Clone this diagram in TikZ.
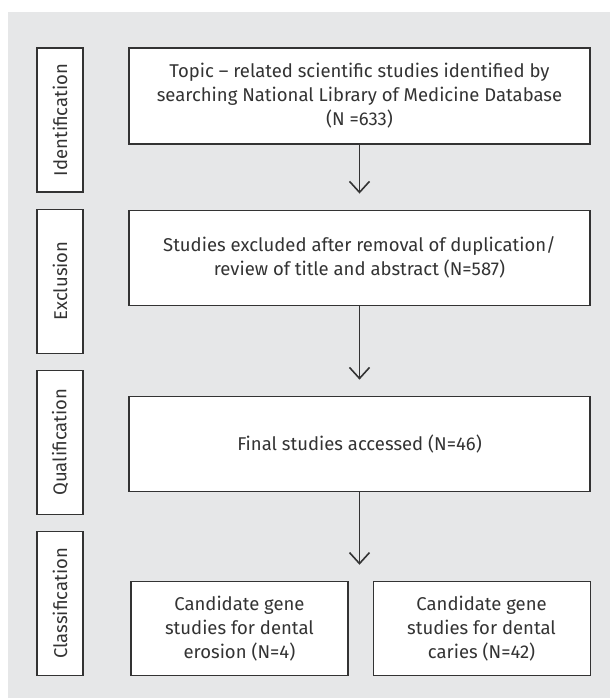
\documentclass[tikz,border=0pt]{standalone}
\usepackage{fontspec}
\setmainfont{Fira Sans}
\usepackage{tikz}
\usetikzlibrary{positioning,arrows.meta}
\definecolor{panelgray}{HTML}{E6E7E8}
\definecolor{inkgray}{HTML}{333333}

\begin{document}
\begin{tikzpicture}[x=1pt,y=-1pt,
        every node/.style={text=inkgray,font=\fontsize{18.5}{24}\selectfont},
        mainbox/.style={draw=inkgray,line width=1.1pt,fill=white,align=center,minimum width=461pt,inner sep=0pt},
        stagebox/.style={draw=inkgray,line width=1.1pt,fill=white,minimum width=46pt,minimum height=144pt,inner sep=0pt},
        genebox/.style={draw=inkgray,line width=1.1pt,fill=white,align=center,minimum width=217pt,minimum height=94pt,inner sep=0pt},
        flow/.style={-{Straight Barb[length=11pt,width=20pt]},line width=1.6pt,draw=inkgray,shorten >=16pt}]
        \fill[panelgray] (8,12) rectangle (610,698);
        \useasboundingbox (0,0) rectangle (610,698);
        \node[stagebox] (identification) at (60,120) {\rotatebox{90}{Identification}};
        \node[stagebox,below=16pt of identification] (exclusion) {\rotatebox{90}{Exclusion}};
        \node[stagebox,below=16pt of exclusion] (qualification) {\rotatebox{90}{Qualification}};
        \node[stagebox,below=16pt of qualification] (classification) {\rotatebox{90}{Classification}};
        \node[mainbox,minimum height=96pt] (search) at (359.5,96) {Topic -- related scientific studies identified by\\searching National Library of Medicine Database\\(N =633)};
        \node[mainbox,minimum height=95pt,below=65pt of search] (excluded) {Studies excluded after removal of duplication/\\review of title and abstract (N=587)};
        \node[mainbox,minimum height=95pt,below=90pt of excluded] (final) {Final studies accessed (N=46)};
        \coordinate[below=73pt of final] (split);
        \node[genebox,anchor=north east] (erosion) at ([xshift=-11pt,yshift=-16pt]split) {Candidate gene\\studies for dental\\erosion (N=4)};
        \node[genebox,anchor=north west] (caries) at ([xshift=13pt,yshift=-16pt]split) {Candidate gene\\studies for dental\\caries (N=42)};
        \draw[flow] (search.south) -- (excluded.north);
        \draw[flow] (excluded.south) -- (final.north);
        \draw[flow,shorten >=0pt] (final.south) -- (split);
    \end{tikzpicture}
\end{document}
